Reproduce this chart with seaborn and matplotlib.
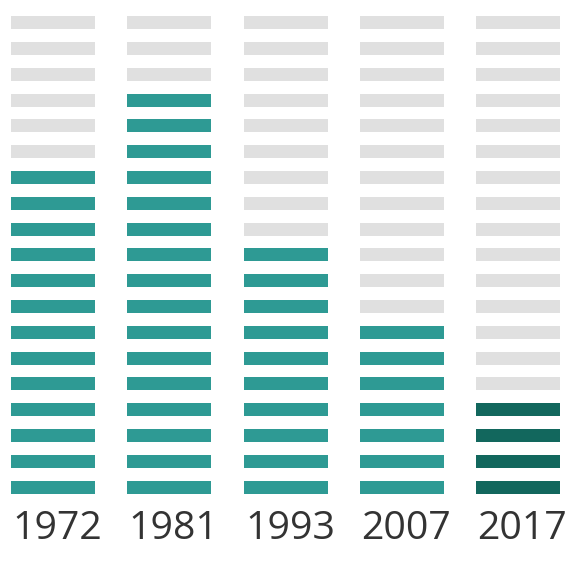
import matplotlib
matplotlib.use("Agg")
import matplotlib.pyplot as plt
import seaborn as sns
import pandas as pd

years = ["1972", "1981", "1993", "2007", "2017"]
filled = [13, 16, 10, 7, 4]
total_rows = 19
fill_colors = ["#2e9a94", "#2e9a94", "#2e9a94", "#2e9a94", "#12675d"]
empty_color = "#e0e0e0"

sns.set_theme(style="white")
plt.rcParams["font.family"] = ["Open Sans", "DejaVu Sans"]

rows = []
for i, (y, n) in enumerate(zip(years, filled)):
    for r in range(total_rows):
        rows.append({"year": y, "col": i, "row": r,
                     "color": fill_colors[i] if r < n else empty_color})
df = pd.DataFrame(rows)

fig = plt.figure(figsize=(5.74, 5.64), dpi=100)
ax = fig.add_axes([0, 0, 1, 1])
colw = 116.25
rowh = 25.8
bw = 84 / colw
bh = 13 / rowh
ax.barh(df["row"], width=bw, left=df["col"] - bw / 2, height=bh,
        color=df["color"], linewidth=0)
for i, y in enumerate(years):
    ax.text(i - bw / 2 + 1.5 / colw, (487 - 539) / rowh, y, ha="left",
            va="baseline", fontsize=28.3, color="#333333")
ax.set_xlim(-53 / colw, (574 - 53) / colw)
ax.set_ylim((487 - 564) / rowh, 487 / rowh)
ax.axis("off")
fig.savefig("out.png", dpi=100)
